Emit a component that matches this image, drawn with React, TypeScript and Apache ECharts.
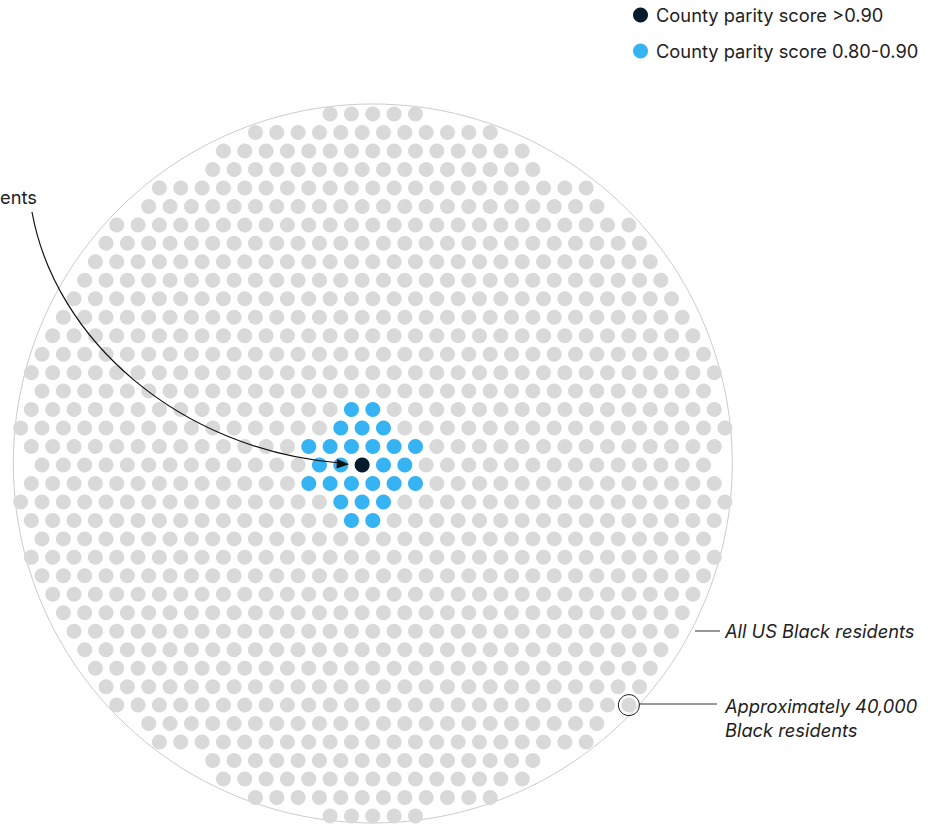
import React, { useEffect, useRef } from "react";
import * as echarts from "echarts";

// Hex grid: u = half-column index, r = row index (row 0 = middle row)
// Largest |u| in each row, indexed by |r| (0..19); 1000 dots in all
const rowHalfWidths = [31, 32, 33, 32, 31, 32, 31, 30, 29, 28, 27, 26, 25, 24, 21, 20, 15, 14, 11, 4];

// Highlighted counties
const darkCells: [number, number][] = [[-1, 0]];
const blueCells: [number, number][] = [
  [-2, -3], [0, -3],
  [-3, -2], [-1, -2], [1, -2],
  [-6, -1], [-4, -1], [-2, -1], [0, -1], [2, -1], [4, -1],
  [-5, 0], [-3, 0], [1, 0], [3, 0],
  [-6, 1], [-4, 1], [-2, 1], [0, 1], [2, 1], [4, 1],
  [-3, 2], [-1, 2], [1, 2],
  [-2, 3], [0, 3],
];
const markedCell: [number, number][] = [[24, 13]];

const legendNames = ["County parity score >0.90", "County parity score 0.80-0.90"];
const allLabel = "All US Black residents";
const dotLabel = "Approximately 40,000\nBlack residents";
const cutLabel = "ents";

// layout constants (pixels)
const W = 930;
const H = 825;
const CX = 372.8;
const CY = 465;
const DU = 10.67;
const DR = 18.47;

export default function App() {
  const ref = useRef<HTMLDivElement>(null);
  useEffect(() => {
    document.body.style.margin = "0";
    if (!ref.current) return;
    const chart = echarts.init(ref.current, null, { renderer: "svg" });

    const key = (c: [number, number]) => c[0] + "," + c[1];
    const taken = new Set<string>([...darkCells, ...blueCells].map(key));
    const grey: [number, number][] = [];
    for (let r = -19; r <= 19; r++) {
      const m = rowHalfWidths[Math.abs(r)];
      for (let u = -m; u <= m; u += 2) {
        if (!taken.has(u + "," + r)) grey.push([u, r]);
      }
    }

    const xMin = -CX / DU;
    const xMax = xMin + W / DU;
    const yMin = -CY / DR;
    const yMax = yMin + H / DR;

    const font = "Inter, 'Noto Sans', sans-serif";
    const ink = "#222222";

    chart.setOption({
      animation: false,
      grid: { left: 0, top: 0, width: W, height: H },
      xAxis: { type: "value", min: xMin, max: xMax, show: false },
      yAxis: { type: "value", min: yMin, max: yMax, inverse: true, show: false },
      legend: {
        orient: "vertical",
        left: 628,
        top: 1,
        itemWidth: 15,
        itemHeight: 15,
        itemGap: 18,
        icon: "circle",
        selectedMode: false,
        data: legendNames,
        textStyle: { fontFamily: font, fontSize: 18.3, color: ink, lineHeight: 18, padding: [0, 0, 0, 3] },
      },
      graphic: [
        {
          type: "circle",
          z: 0,
          silent: true,
          shape: { cx: 372.8, cy: 463.5, r: 359.5 },
          style: { fill: "none", stroke: "#cccccc", lineWidth: 1 },
        },
        {
          type: "bezierCurve",
          z: 20,
          shape: { x1: 32, y1: 212, cpx1: 55, cpy1: 340, cpx2: 180, cpy2: 450, x2: 340, y2: 463 },
          style: { fill: "none", stroke: "#111111", lineWidth: 1.2 },
        },
        {
          type: "polygon",
          z: 20,
          shape: { points: [[349, 464.3], [337, 459], [336.5, 468.5]] },
          style: { fill: "#111111" },
        },
        {
          type: "text",
          z: 20,
          style: { x: 0, y: 197, text: cutLabel, font: `18.3px ${font}`, fill: ink, verticalAlign: "middle" },
        },
        {
          type: "line",
          z: 20,
          shape: { x1: 695, y1: 631, x2: 720, y2: 631 },
          style: { stroke: "#333333", lineWidth: 1 },
        },
        {
          type: "text",
          z: 20,
          style: { x: 725, y: 631, text: allLabel, font: `italic 18.3px ${font}`, fill: ink, verticalAlign: "middle" },
        },
        {
          type: "line",
          z: 20,
          shape: { x1: 639.5, y1: 704, x2: 717, y2: 704 },
          style: { stroke: "#333333", lineWidth: 1 },
        },
        {
          type: "text",
          z: 20,
          style: {
            x: 725,
            y: 694,
            text: dotLabel,
            font: `italic 18.3px ${font}`,
            lineHeight: 24,
            fill: ink,
            verticalAlign: "top",
          },
        },
      ],
      series: [
        {
          type: "scatter",
          name: "grey",
          data: grey,
          symbol: "circle",
          symbolSize: 15,
          itemStyle: { color: "#d9d9d9", opacity: 1 },
          silent: true,
          z: 2,
        },
        {
          type: "scatter",
          name: legendNames[1],
          data: blueCells,
          symbol: "circle",
          symbolSize: 15,
          itemStyle: { color: "#35b3f2", opacity: 1 },
          z: 3,
        },
        {
          type: "scatter",
          name: legendNames[0],
          data: darkCells,
          symbol: "circle",
          symbolSize: 15,
          itemStyle: { color: "#051c2c", opacity: 1 },
          z: 3,
        },
        {
          type: "scatter",
          name: "marked",
          data: markedCell,
          symbol: "circle",
          symbolSize: 21,
          itemStyle: { color: "rgba(0,0,0,0)", borderColor: "#1a1a1a", borderWidth: 1, opacity: 1 },
          z: 4,
        },
      ],
    });
    return () => chart.dispose();
  }, []);
  return <div ref={ref} style={{ width: W, height: H }} />;
}
